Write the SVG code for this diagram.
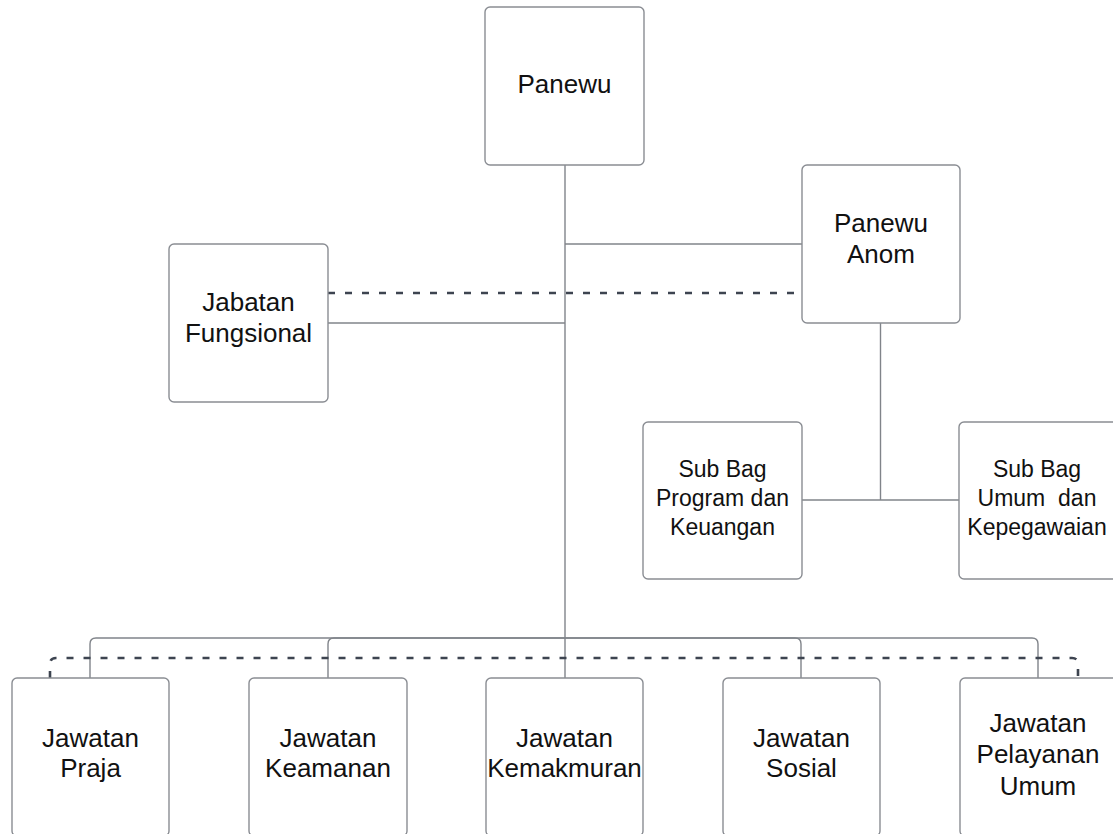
<svg xmlns="http://www.w3.org/2000/svg" width="1113" height="834" viewBox="0 0 1113 834">
<style>
.box{fill:#ffffff;stroke:#8a8d93;stroke-width:1.4}
.t{font-family:"Liberation Sans",Arial,sans-serif;font-size:26px;fill:#111;text-anchor:middle;white-space:pre}
.s{font-size:23px}
.ln{fill:none;stroke:#80848a;stroke-width:1.4}
.dash{fill:none;stroke:#3d4450;stroke-width:2.6;stroke-dasharray:7 10}
</style>
<rect width="1113" height="834" fill="#ffffff"/>
<g id="connectors">
<path class="ln" d="M565,165 V678"/>
<path class="ln" d="M565,244 H802"/>
<path class="ln" d="M565,323 H328"/>
<path class="ln" d="M880.5,323 V500"/>
<path class="ln" d="M802,500 H959"/>
<path class="ln" d="M565,638 H96 Q90,638 90,644 V678"/>
<path class="ln" d="M565,638 H334 Q328,638 328,644 V678"/>
<path class="ln" d="M565,638 H795 Q801,638 801,644 V678"/>
<path class="ln" d="M565,638 H1032 Q1038,638 1038,644 V678"/>
<path class="dash" d="M328,293 H802"/>
<path class="dash" d="M50,678 V664 Q50,658 56,658 H1072 Q1078,658 1078,664 V678"/>
</g>
<g id="panewu">
<rect class="box" x="485" y="7" width="159" height="158" rx="5"/>
<text class="t" x="564.5" y="93">Panewu</text>
</g>
<g id="panewu-anom">
<rect class="box" x="802" y="165" width="158" height="158" rx="5"/>
<text class="t" x="881" y="232">Panewu</text>
<text class="t" x="881" y="263">Anom</text>
</g>
<g id="jabatan-fungsional">
<rect class="box" x="169" y="244" width="159" height="158" rx="5"/>
<text class="t" x="248.5" y="311">Jabatan</text>
<text class="t" x="248.5" y="342">Fungsional</text>
</g>
<g id="subbag-program">
<rect class="box" x="643" y="422" width="159" height="157" rx="5"/>
<text class="t s" x="722.5" y="477">Sub Bag</text>
<text class="t s" x="722.5" y="506">Program dan</text>
<text class="t s" x="722.5" y="535">Keuangan</text>
</g>
<g id="subbag-umum">
<rect class="box" x="959" y="422" width="159" height="157" rx="5"/>
<text class="t s" x="1037" y="477">Sub Bag</text>
<text class="t s" x="1037" y="506">Umum  dan</text>
<text class="t s" x="1037" y="535">Kepegawaian</text>
</g>
<g id="jawatan-praja">
<rect class="box" x="12" y="678" width="157" height="158" rx="5"/>
<text class="t" x="90.5" y="747">Jawatan</text>
<text class="t" x="90.5" y="777">Praja</text>
</g>
<g id="jawatan-keamanan">
<rect class="box" x="249" y="678" width="158" height="158" rx="5"/>
<text class="t" x="328" y="747">Jawatan</text>
<text class="t" x="328" y="777">Keamanan</text>
</g>
<g id="jawatan-kemakmuran">
<rect class="box" x="486" y="678" width="157" height="158" rx="5"/>
<text class="t" x="564.5" y="747">Jawatan</text>
<text class="t" x="564.5" y="777">Kemakmuran</text>
</g>
<g id="jawatan-sosial">
<rect class="box" x="723" y="678" width="157" height="158" rx="5"/>
<text class="t" x="801.5" y="747">Jawatan</text>
<text class="t" x="801.5" y="777">Sosial</text>
</g>
<g id="jawatan-pelayanan">
<rect class="box" x="960" y="678" width="158" height="158" rx="5"/>
<text class="t" x="1038" y="732">Jawatan</text>
<text class="t" x="1038" y="763">Pelayanan</text>
<text class="t" x="1038" y="795">Umum</text>
</g>
</svg>
